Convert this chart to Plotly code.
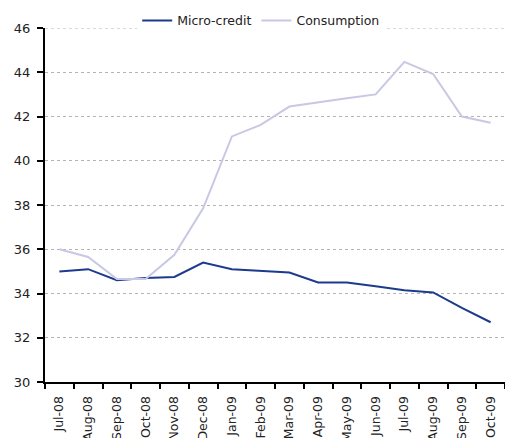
import plotly.graph_objects as go

months = ["Jul-08", "Aug-08", "Sep-08", "Oct-08", "Nov-08", "Dec-08", "Jan-09", "Feb-09",
          "Mar-09", "Apr-09", "May-09", "Jun-09", "Jul-09", "Aug-09", "Sep-09", "Oct-09"]
micro_credit = [35.0, 35.1, 34.6, 34.7, 34.75, 35.4, 35.1, 35.03, 34.95, 34.5,
                34.5, 34.33, 34.15, 34.05, 33.35, 32.7]
consumption = [36.0, 35.65, 34.65, 34.65, 35.75, 37.85, 41.1, 41.62, 42.45, 42.62,
               42.82, 43.0, 44.47, 43.92, 42.0, 41.72]
y_max = 46

fig = go.Figure()
fig.add_trace(go.Scatter(x=months, y=micro_credit, name="Micro-credit", mode="lines",
                         line=dict(color="#1c3a8e", width=2)))
fig.add_trace(go.Scatter(x=months, y=consumption, name="Consumption", mode="lines",
                         line=dict(color="#c8c8e4", width=2)))

# top gridline sits on the plot edge, draw it explicitly
fig.add_hline(y=y_max, line=dict(color="#b4b4b4", width=1, dash="dot"), layer="below")

fig.update_layout(
    width=505, height=438,
    margin=dict(l=45, r=0, t=28, b=56),
    paper_bgcolor="white", plot_bgcolor="white",
    font=dict(family="DejaVu Sans, Tahoma, sans-serif", size=12.5, color="#222"),
    showlegend=True,
    legend=dict(orientation="h", x=0.47, xanchor="center", y=1.02, yanchor="middle",
                bgcolor="white", font=dict(size=12.5), tracegroupgap=0),
    xaxis=dict(type="category", range=[-0.5, 15.5], showgrid=False,
               showline=True, linecolor="black", linewidth=2,
               ticks="outside", tickson="boundaries", ticklen=5, tickcolor="black",
               tickwidth=2, tickangle=-90, automargin=False, ticklabelstandoff=7,
               tickfont=dict(size=12.5)),
    yaxis=dict(range=[30, y_max], dtick=2, showgrid=True, gridcolor="#b4b4b4",
               griddash="dot", gridwidth=1, showline=True, linecolor="black",
               linewidth=2, ticks="outside", ticklen=6, tickcolor="black", tickwidth=2,
               zeroline=False, automargin=False, ticklabelstandoff=4,
               tickfont=dict(size=13)),
)

fig.write_html("out.html")
